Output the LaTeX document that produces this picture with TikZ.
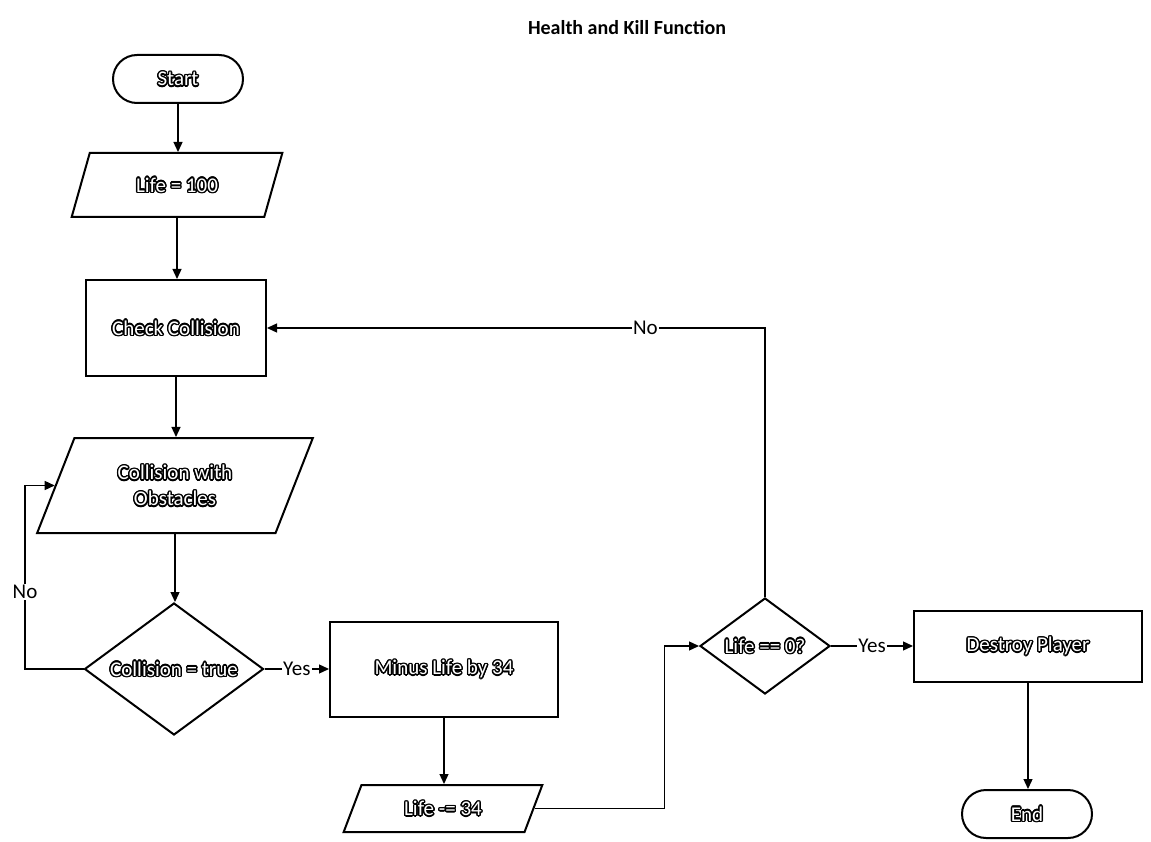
\documentclass[tikz,border=0pt]{standalone}
\usepackage{fontspec}
\setmainfont{Carlito}
\usetikzlibrary{shapes.geometric,arrows.meta,calc}

% white letters with a black outline, built from offset copies
\newcommand\otx[1]{%
  \foreach \ang in {0,22.5,...,337.5}{%
    \rlap{\hspace*{\fpeval{1.4*cosd(\ang)}pt}\raisebox{\fpeval{1.4*sind(\ang)}pt}{\textcolor{black}{#1}}}%
  }%
  \textcolor{white}{#1}}

\tikzset{
  shp/.style={draw, line width=2pt, fill=white, align=center, inner sep=0pt,
    font=\fontsize{21}{26}\selectfont},
  term/.style={shp, rectangle, rounded corners=24pt, minimum width=130pt, minimum height=48pt},
  proc/.style={shp, rectangle},
  io/.style={shp, trapezium, trapezium left angle=64, trapezium right angle=116,
    trapezium stretches=true},
  dec/.style={shp, diamond, aspect=1.36},
  conn/.style={line width=1.3pt, -{Triangle[length=10pt,width=9pt]}},
  lbl/.style={fill=white, inner sep=1.5pt, font=\fontsize{21}{25}\selectfont},
}

\begin{document}
\begin{tikzpicture}[x=1pt,y=-1pt]
\path[use as bounding box] (0,0) rectangle (1151,842);

\node[font=\bfseries\fontsize{20}{24}\selectfont] (title) at (627,28) {Health and Kill Function};

% flow nodes
\node[term] (start) at (178,79) {\otx{Start}};
\node[io, minimum width=211pt, minimum height=64pt] (life100) at (177,185) {\otx{Life = 100}};
\node[proc, minimum width=180pt, minimum height=96pt] (check) at (176,328) {\otx{Check Collision}};
\node[io, minimum width=276pt, minimum height=95pt] (obst) at (175,485.5) {\otx{Collision with}\\\otx{Obstacles}};
\node[dec, minimum width=179pt, minimum height=132pt] (coll) at (174,669) {\otx{Collision = true}};
\node[proc, minimum width=228pt, minimum height=95pt] (minus) at (444,669) {\otx{Minus Life by 34}};
\node[io, minimum width=200pt, minimum height=47pt] (life34) at (443,808.5) {\otx{Life -= 34}};
\node[dec, minimum width=130pt, minimum height=96pt] (life0) at (765,646) {\otx{Life == 0?}};
\node[proc, minimum width=228pt, minimum height=71pt] (destroy) at (1028,646) {\otx{Destroy Player}};
\node[term] (end) at (1027,814) {\otx{End}};

% connectors
\draw[conn] (start.south) -- (start.south |- life100.north);
\draw[conn] (life100.south) -- (life100.south |- check.north);
\draw[conn] (check.south) -- (check.south |- obst.north);
\draw[conn] (obst.south) -- (obst.south |- coll.north);
\draw[conn] (coll.east) -- node[lbl] {Yes} (minus.west);
\coordinate (nloop) at (25,485.5);
\draw[conn] (coll.west) -| node[lbl, pos=0.71] {No} (nloop) -- (obst.left side);
\draw[conn] (minus.south) -- (minus.south |- life34.north);
\draw[conn] (life34.right side) -| ($(life34.right side)!0.79!(life0.west)$) |- (life0.west);
\draw[conn] (life0.east) -- node[lbl] {Yes} (destroy.west);
\draw[conn] (life0.north) |- node[lbl, pos=0.62] {No} (check.east);
\draw[conn] (destroy.south) -- (destroy.south |- end.north);
\end{tikzpicture}
\end{document}
